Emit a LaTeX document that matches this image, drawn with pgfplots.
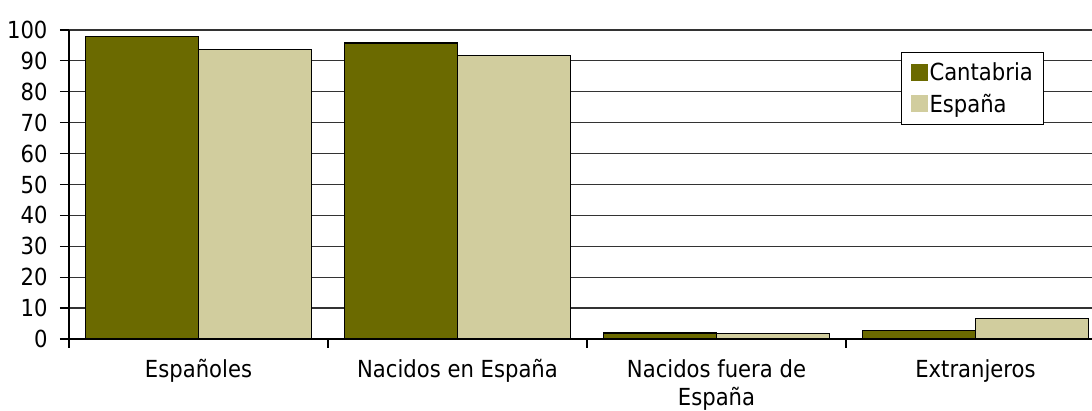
\documentclass[border=0pt]{standalone}
\usepackage{fontspec}
\setmainfont{DejaVu Sans}[FakeStretch=0.9]
\usepackage{pgfplots}
\pgfplotsset{compat=1.18}
\definecolor{cant}{RGB}{107,106,0}
\definecolor{esp}{RGB}{209,205,158}
\begin{document}
\begin{tikzpicture}
\begin{axis}[
  scale only axis, width=1023pt, height=309pt,
  ybar=0pt, bar width=113pt,
  xmin=-0.5, xmax=3.4498, ymin=0, ymax=100,
  axis lines=left, axis line style={-, line width=1.2pt, black},
  xtick={-0.5,0.5,1.5,2.5}, xticklabels={},
  extra x ticks={0,1,2,3},
  extra x tick labels={Españoles, Nacidos en España, {Nacidos fuera de\\España}, Extranjeros},
  extra x tick style={major tick length=0pt, grid=none},
  xticklabel style={align=center, yshift=-17pt, font=\fontsize{23.5}{28.5}\selectfont},
  yticklabel style={xshift=-9pt},
  ytick={0,10,...,100}, ymajorgrids, grid style={black!80, line width=1.2pt},
  tick style={black, line width=1.2pt}, major tick length=9pt, tick align=outside,
  font=\fontsize{23.5}{31}\selectfont,
  /pgf/number format/assume math mode=true,
  legend style={at={(rel axis cs:0.8133,0.9298)}, anchor=north west, draw=black, line width=1pt, fill=white,
    font=\fontsize{23.5}{27}\selectfont, inner xsep=9pt, inner ysep=8.5pt, row sep=8pt,
    nodes={inner sep=2pt}},
  legend cell align=left,
  legend image code/.code={\path[fill, draw=none] (0pt,-8.5pt) rectangle (17pt,8.5pt);},
  every axis plot/.append style={draw=black, line width=1.3pt},
]
\addplot[fill=cant] coordinates {(0,97.9) (1,95.8) (2,1.9) (3,2.7)};
\addplot[fill=esp] coordinates {(0,93.8) (1,91.8) (2,1.8) (3,6.7)};
\legend{Cantabria, España}
\coordinate (bl) at (rel axis cs:0,0);
\coordinate (tr) at (rel axis cs:1,1);
\end{axis}
\pgfresetboundingbox
\path[use as bounding box] ([xshift=-69pt,yshift=-72pt]bl) rectangle ([yshift=30pt]tr);
\end{tikzpicture}
\end{document}
